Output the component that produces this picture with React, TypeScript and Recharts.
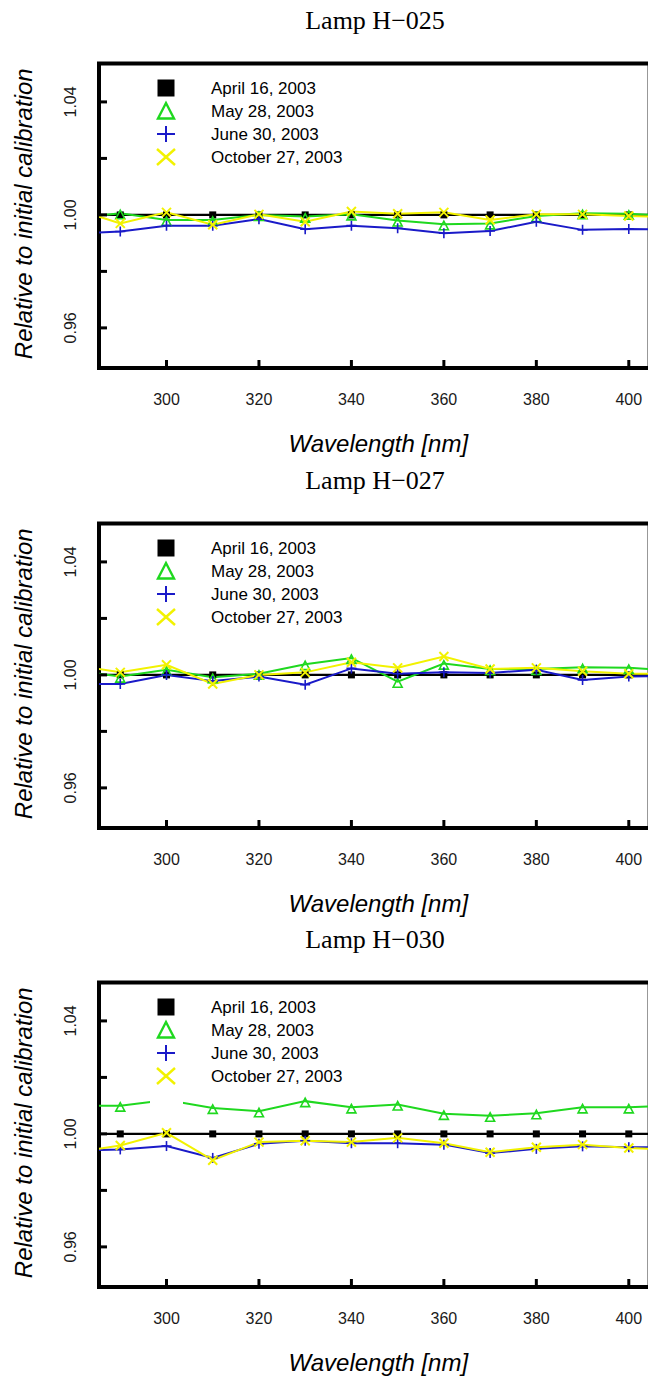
import React from 'react';
import { LineChart, Line, XAxis, YAxis, ReferenceArea, Legend, Label } from 'recharts';

// Wavelength grid (nm); 280 and 410 sit just outside the visible window so the
// traces run into the frame edges.
const WAVELENGTHS = [280, 290, 300, 310, 320, 330, 340, 350, 360, 370, 380, 390, 400, 410];
const X_TICKS = [300, 320, 340, 360, 380, 400];
const Y_TICKS = [0.96, 0.98, 1.0, 1.02, 1.04];
const Y_LABELED_TICKS = [0.96, 1.0, 1.04];
const X_DOMAIN: [number, number] = [285.4, 404.5];
const Y_DOMAIN: [number, number] = [0.9458, 1.0536];

const SERIES_KEYS = ['apr', 'may', 'jun', 'oct'];
const SERIES_LABELS = ['April 16, 2003', 'May 28, 2003', 'June 30, 2003', 'October 27, 2003'];
const SERIES_COLORS = ['#000000', '#1fd81f', '#1a1ac8', '#f2f200'];

const LAMP_TITLES = ['Lamp H\u2212025', 'Lamp H\u2212027', 'Lamp H\u2212030'];

// Lamp H-025
const H025_APR = [1.0, 1.0, 1.0, 1.0, 1.0, 1.0, 1.0, 1.0, 1.0, 1.0, 1.0, 1.0, 1.0, 1.0];
const H025_MAY = [0.9989, 1.0006, 0.9982, 0.9982, 1.0, 0.9994, 1.0002, 0.998, 0.9967, 0.997, 0.9996, 1.0006, 1.0004, 0.9995];
const H025_JUN = [0.9933, 0.9941, 0.9962, 0.9962, 0.9985, 0.9949, 0.9962, 0.9953, 0.9935, 0.9943, 0.9976, 0.9947, 0.995, 0.9948];
const H025_OCT = [1.0022, 0.997, 1.0009, 0.9965, 1.0002, 0.9976, 1.0012, 1.0004, 1.0009, 0.9982, 1.0002, 1.0002, 0.9996, 0.9992];

// Lamp H-027
const H027_APR = [1.0, 1.0, 1.0, 1.0, 1.0, 1.0, 1.0, 1.0, 1.0, 1.0, 1.0, 1.0, 1.0, 1.0];
const H027_MAY = [1.0016, 0.9994, 1.0018, 0.9992, 1.0004, 1.0038, 1.006, 0.9976, 1.004, 1.0021, 1.0021, 1.0027, 1.0025, 1.0016];
const H027_JUN = [0.9968, 0.9968, 1.0, 0.9978, 0.9994, 0.9965, 1.0023, 1.0004, 1.0009, 1.0007, 1.0018, 0.9982, 0.9994, 0.9996];
const H027_OCT = [1.0035, 1.0009, 1.0036, 0.9968, 1.0, 1.0009, 1.0045, 1.0025, 1.0065, 1.0021, 1.0025, 1.0013, 1.0004, 1.0004];

// Lamp H-030
const H030_APR = [1.0, 1.0, 1.0, 1.0, 1.0, 1.0, 1.0, 1.0, 1.0, 1.0, 1.0, 1.0, 1.0, 1.0];
const H030_MAY = [1.01, 1.01, 1.012, 1.0092, 1.008, 1.0116, 1.0094, 1.0104, 1.0071, 1.0064, 1.0073, 1.0094, 1.0094, 1.0101];
const H030_JUN = [0.9941, 0.9945, 0.9957, 0.9915, 0.9965, 0.9976, 0.9967, 0.9967, 0.9962, 0.9932, 0.9947, 0.9956, 0.9953, 0.9953];
const H030_OCT = [0.9933, 0.9959, 1.0004, 0.9907, 0.9971, 0.9976, 0.9971, 0.9986, 0.9967, 0.9935, 0.9953, 0.9962, 0.995, 0.9943];

const SANS = "'Liberation Sans', Arial, Helvetica, sans-serif";
const SERIF = "'Liberation Serif', 'Times New Roman', serif";

function buildRows(apr: number[], may: number[], jun: number[], oct: number[]) {
  return WAVELENGTHS.map((wl, i) => ({ wl, apr: apr[i], may: may[i], jun: jun[i], oct: oct[i] }));
}

const PANELS = [
  { title: LAMP_TITLES[0], top: 0, rows: buildRows(H025_APR, H025_MAY, H025_JUN, H025_OCT) },
  { title: LAMP_TITLES[1], top: 460, rows: buildRows(H027_APR, H027_MAY, H027_JUN, H027_OCT) },
  { title: LAMP_TITLES[2], top: 919, rows: buildRows(H030_APR, H030_MAY, H030_JUN, H030_OCT) },
];

function colorOf(kind: string) {
  return SERIES_COLORS[SERIES_KEYS.indexOf(kind)];
}

// Small plot symbols on the data points
function DataMarker({ kind, cx, cy }: { kind: string; cx: number; cy: number }) {
  const c = colorOf(kind);
  if (kind === 'apr') {
    return <rect x={cx - 3.5} y={cy - 3.5} width={7} height={7} fill={c} stroke="none" />;
  }
  if (kind === 'may') {
    return (
      <polygon
        points={`${cx},${cy - 3} ${cx - 4.5},${cy + 5.5} ${cx + 4.5},${cy + 5.5}`}
        fill="none"
        stroke={c}
        strokeWidth={1.6}
      />
    );
  }
  if (kind === 'jun') {
    return (
      <g stroke={c} strokeWidth={1.6}>
        <line x1={cx - 5} x2={cx + 5} y1={cy} y2={cy} />
        <line x1={cx} x2={cx} y1={cy - 5} y2={cy + 5} />
      </g>
    );
  }
  return (
    <g stroke={c} strokeWidth={2}>
      <line x1={cx - 4.5} x2={cx + 4.5} y1={cy - 4.5} y2={cy + 4.5} />
      <line x1={cx - 4.5} x2={cx + 4.5} y1={cy + 4.5} y2={cy - 4.5} />
    </g>
  );
}

// Larger symbols used in the key
function KeyMarker({ kind, cx, cy }: { kind: string; cx: number; cy: number }) {
  const c = colorOf(kind);
  if (kind === 'apr') {
    return <rect x={cx - 8.5} y={cy - 8.5} width={17} height={17} fill={c} />;
  }
  if (kind === 'may') {
    return (
      <polygon
        points={`${cx},${cy - 8} ${cx - 8},${cy + 7.5} ${cx + 8},${cy + 7.5}`}
        fill="none"
        stroke={c}
        strokeWidth={2.4}
      />
    );
  }
  if (kind === 'jun') {
    return (
      <g stroke={c} strokeWidth={2}>
        <line x1={cx - 9} x2={cx + 9} y1={cy} y2={cy} />
        <line x1={cx} x2={cx} y1={cy - 8} y2={cy + 8} />
      </g>
    );
  }
  return (
    <g stroke={c} strokeWidth={2.4}>
      <line x1={cx - 9} x2={cx + 9} y1={cy - 8} y2={cy + 8} />
      <line x1={cx - 9} x2={cx + 9} y1={cy + 8} y2={cy - 8} />
    </g>
  );
}

const makeDot = (kind: string) => (props: any) => {
  const { cx, cy, index } = props;
  if (cx == null || cy == null || Number.isNaN(cx) || Number.isNaN(cy)) {
    return <g key={`${kind}-${index}`} />;
  }
  return <DataMarker key={`${kind}-${index}`} kind={kind} cx={cx} cy={cy} />;
};

function YTick(props: any) {
  const { x, y, payload } = props;
  const v = Number(payload.value);
  const labeled = Y_LABELED_TICKS.some((t) => Math.abs(t - v) < 1e-9);
  const lx = x - 23;
  return (
    <g>
      <line x1={x} x2={x + 8} y1={y} y2={y} stroke="#000" strokeWidth={3} />
      {labeled && (
        <text
          x={lx}
          y={y}
          transform={`rotate(-90, ${lx}, ${y})`}
          textAnchor="middle"
          fontFamily={SANS}
          fontSize={16}
          fontWeight="normal"
          fill="#1a1a1a"
          stroke="none"
        >
          {v.toFixed(2)}
        </text>
      )}
    </g>
  );
}

function XTick(props: any) {
  const { x, y, payload } = props;
  return (
    <g>
      <line x1={x} x2={x} y1={y} y2={y - 8} stroke="#000" strokeWidth={3} />
      <text
        x={x}
        y={y + 37}
        textAnchor="middle"
        fontFamily={SANS}
        fontSize={16}
        fontWeight="normal"
        fill="#1a1a1a"
        stroke="none"
      >
        {payload.value}
      </text>
    </g>
  );
}

function KeyBox(props: any) {
  const payload: any[] = props.payload || [];
  const entries = SERIES_KEYS.map((k, i) => {
    const found = payload.find((p) => p.dataKey === k);
    return { kind: k, label: found ? found.value : SERIES_LABELS[i] };
  });
  return (
    <svg width={270} height={122} style={{ display: 'block' }}>
      <rect x={10} y={4} width={33} height={118} fill="#fff" />
      {entries.map((e, i) => {
        const cy = 18 + i * 23;
        return (
          <g key={e.kind}>
            <KeyMarker kind={e.kind} cx={26} cy={cy} />
            <text x={71} y={cy + 6} fontFamily={SANS} fontSize={17} fill="#000" stroke="none">
              {e.label}
            </text>
          </g>
        );
      })}
    </svg>
  );
}

function XTitle(props: any) {
  const vb = props.viewBox || { x: 99, y: 368, width: 550, height: 92 };
  return (
    <text
      x={vb.x + vb.width / 2 + 4}
      y={vb.y + vb.height - 8}
      textAnchor="middle"
      fontFamily={SANS}
      fontStyle="italic"
      fontSize={24}
      fill="#000"
      stroke="none"
    >
      Wavelength [nm]
    </text>
  );
}

function YTitle(props: any) {
  const vb = props.viewBox || { x: 0, y: 63.5, width: 99, height: 304.5 };
  const tx = vb.x + 32;
  const ty = vb.y + vb.height / 2 - 2;
  return (
    <text
      x={tx}
      y={ty}
      transform={`rotate(-90, ${tx}, ${ty})`}
      textAnchor="middle"
      fontFamily={SANS}
      fontStyle="italic"
      fontSize={24}
      fill="#000"
      stroke="none"
    >
      Relative to initial calibration
    </text>
  );
}

function LampPanel({ title, rows, top }: { title: string; rows: any[]; top: number }) {
  return (
    <div style={{ position: 'absolute', left: 0, top, width: 648, height: 460, overflow: 'hidden' }}>
      <svg width={648} height={40} style={{ position: 'absolute', left: 0, top: 0 }}>
        <text x={375} y={29} textAnchor="middle" fontFamily={SERIF} fontSize={26} fill="#000">
          {title}
        </text>
      </svg>
      <LineChart
        width={650}
        height={460}
        data={rows}
        margin={{ top: 63.5, right: 0.4, bottom: 0, left: 0 }}
      >
        <XAxis
          dataKey="wl"
          type="number"
          domain={X_DOMAIN}
          allowDataOverflow
          ticks={X_TICKS}
          interval={0}
          axisLine={false}
          tickLine={false}
          tickSize={0}
          tickMargin={0}
          height={92}
          tick={(p: any) => <XTick {...p} />}
        >
          <Label content={(p: any) => <XTitle {...p} />} />
        </XAxis>
        <YAxis
          type="number"
          domain={Y_DOMAIN}
          allowDataOverflow
          ticks={Y_TICKS}
          interval={0}
          axisLine={false}
          tickLine={false}
          tickSize={0}
          tickMargin={0}
          width={99}
          tick={(p: any) => <YTick {...p} />}
        >
          <Label content={(p: any) => <YTitle {...p} />} />
        </YAxis>
        {SERIES_KEYS.map((k, i) => (
          <Line
            key={k}
            type="linear"
            dataKey={k}
            name={SERIES_LABELS[i]}
            stroke={SERIES_COLORS[i]}
            strokeWidth={k === 'apr' ? 2.3 : 2}
            dot={makeDot(k)}
            activeDot={false}
            isAnimationActive={false}
          />
        ))}
        <ReferenceArea
          x1={X_DOMAIN[0]}
          x2={X_DOMAIN[1]}
          y1={Y_DOMAIN[0]}
          y2={Y_DOMAIN[1]}
          fill="none"
          fillOpacity={0}
          stroke="#000"
          strokeWidth={4}
          ifOverflow="visible"
        />
        <Legend
          layout="vertical"
          align="center"
          verticalAlign="middle"
          wrapperStyle={{ left: 140, top: 70, width: 270, height: 122 }}
          content={(p: any) => <KeyBox {...p} />}
        />
      </LineChart>
    </div>
  );
}

export default function App() {
  return (
    <div
      style={{
        position: 'absolute',
        left: 0,
        top: 0,
        width: 648,
        height: 1380,
        background: '#fff',
        overflow: 'hidden',
      }}
    >
      {PANELS.map((p) => (
        <LampPanel key={p.title} title={p.title} rows={p.rows} top={p.top} />
      ))}
    </div>
  );
}
